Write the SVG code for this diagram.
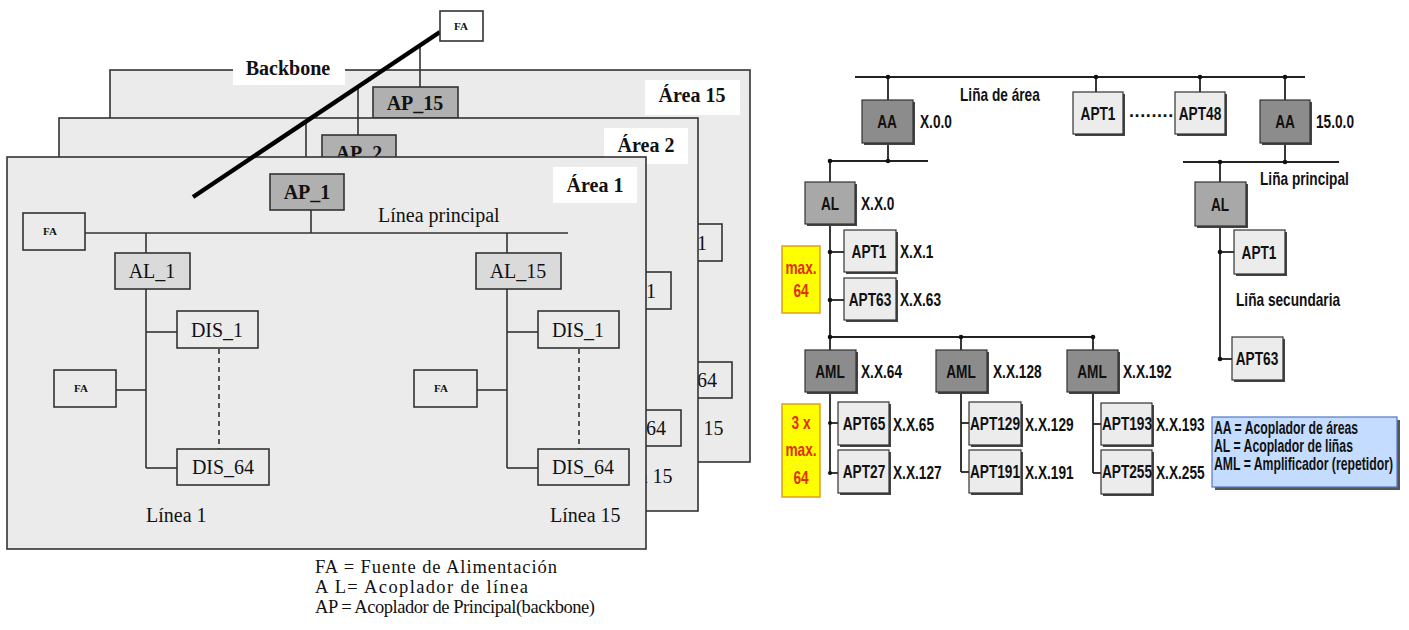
<svg xmlns="http://www.w3.org/2000/svg" xmlns:xlink="http://www.w3.org/1999/xlink" width="1409" height="630" viewBox="0 0 1409 630">
<style>
.panel{fill:#ebebeb;stroke:#333;stroke-width:1.6}
.bx{fill:#ebebeb;stroke:#333;stroke-width:1.6}
.al{fill:#dadada;stroke:#333;stroke-width:1.6}
.ap{fill:#b0b0b0;stroke:#333;stroke-width:1.6}
.ln{stroke:#333;stroke-width:1.6;fill:none}
.dash{stroke:#333;stroke-width:1.6;stroke-dasharray:5,4;fill:none}
.ser{font-family:"Liberation Serif","Times New Roman",serif;fill:#111}
.s20{font-size:20px}
.b20{font-size:20px;font-weight:bold}
.fa{font-size:11px;font-weight:bold}
.lbl{fill:#fff}
.nar{font-family:"Liberation Sans",Arial,sans-serif;font-weight:bold;fill:#111;font-size:18px}
.mid{text-anchor:middle}
.rl{stroke:#222;stroke-width:1.8;fill:none}
.sh{fill:#444}
.dk{fill:#8c8c8c;stroke:#333;stroke-width:1.2}
.md{fill:#a8a8a8;stroke:#333;stroke-width:1.2}
.lt{fill:#ececec;stroke:#333;stroke-width:1.2}
.yl{fill:#ffff00;stroke:#e0a020;stroke-width:1.5}
.red{fill:#e0300c}
.dot{fill:#111}
</style>

<!-- ===== LEFT DIAGRAM ===== -->
<g id="area15">
  <rect class="panel" x="110" y="70" width="640" height="392"/>
  <use xlink:href="#area1-content" href="#area1-content" transform="translate(103,-87)"/>
  <rect class="lbl" x="645" y="80" width="95" height="35"/>
  <text class="ser b20" x="692" y="102" text-anchor="middle">Área 15</text>
</g>
<g id="backbone-label">
  <rect class="lbl" x="233" y="60" width="112" height="25"/>
  <text class="ser b20" x="288" y="75" text-anchor="middle">Backbone</text>
</g>
<g id="AP_15">
  <rect class="ap" x="373" y="87" width="85" height="31"/>
  <text class="ser b20" x="415" y="110" text-anchor="middle">AP_15</text>
</g>
<g id="area2">
  <rect class="panel" x="59" y="118" width="639" height="393"/>
  <use xlink:href="#area1-content" href="#area1-content" transform="translate(52,-39)"/>
  <rect class="lbl" x="604" y="128" width="84" height="36"/>
  <text class="ser b20" x="646" y="152" text-anchor="middle">Área 2</text>
</g>
<g id="AP_2">
  <rect class="ap" x="322" y="135" width="74" height="36"/>
  <text class="ser b20" x="359" y="160" text-anchor="middle">AP_2</text>
</g>
<g id="backbone-drops">
  <line class="ln" x1="420" y1="45" x2="420" y2="87"/>
  <line class="ln" x1="358" y1="87" x2="358" y2="135"/>
  <line class="ln" x1="306" y1="121" x2="306" y2="157"/>
</g>
<g id="area1">
  <rect class="panel" x="7" y="157" width="639" height="392"/>
  <rect class="lbl" x="553" y="167" width="84" height="36"/>
  <text class="ser b20" x="595" y="192" text-anchor="middle">Área 1</text>
  <g id="area1-content">
    <g id="FA_main">
      <rect class="bx" x="23" y="213" width="62" height="37"/>
      <text class="ser fa" x="50" y="235" text-anchor="middle">FA</text>
    </g>
    <g id="linea-principal">
      <line class="ln" x1="85" y1="233" x2="568" y2="233"/>
      <text class="ser s20" x="378" y="222">Línea principal</text>
    </g>
    <g id="linea1">
      <line class="ln" x1="146" y1="233" x2="146" y2="253"/>
      <line class="ln" x1="146" y1="289" x2="146" y2="468"/>
      <line class="ln" x1="146" y1="332" x2="177" y2="332"/>
      <line class="ln" x1="146" y1="468" x2="177" y2="468"/>
      <line class="ln" x1="116" y1="390" x2="146" y2="390"/>
      <line class="dash" x1="219" y1="349" x2="219" y2="449"/>
      <g id="AL_1"><rect class="al" x="115" y="253" width="75" height="36"/><text class="ser s20" x="152" y="278" text-anchor="middle">AL_1</text></g>
      <g id="DIS_1_l1"><rect class="bx" x="177" y="311" width="81" height="37"/><text class="ser s20" x="217" y="337" text-anchor="middle">DIS_1</text></g>
      <g id="DIS_64_l1"><rect class="bx" x="177" y="449" width="92" height="36"/><text class="ser s20" x="223" y="474" text-anchor="middle">DIS_64</text></g>
      <g id="FA_l1"><rect class="bx" x="54" y="370" width="62" height="37"/><text class="ser fa" x="81" y="392" text-anchor="middle">FA</text></g>
      <text class="ser s20" x="146" y="522">Línea 1</text>
    </g>
    <g id="linea15">
      <line class="ln" x1="507" y1="233" x2="507" y2="253"/>
      <line class="ln" x1="507" y1="289" x2="507" y2="468"/>
      <line class="ln" x1="507" y1="332" x2="538" y2="332"/>
      <line class="ln" x1="507" y1="468" x2="538" y2="468"/>
      <line class="ln" x1="477" y1="390" x2="507" y2="390"/>
      <line class="dash" x1="579" y1="349" x2="579" y2="449"/>
      <g id="AL_15"><rect class="al" x="476" y="253" width="85" height="36"/><text class="ser s20" x="518" y="278" text-anchor="middle">AL_15</text></g>
      <g id="DIS_1_l15"><rect class="bx" x="538" y="311" width="81" height="37"/><text class="ser s20" x="578" y="337" text-anchor="middle">DIS_1</text></g>
      <g id="DIS_64_l15"><rect class="bx" x="538" y="449" width="91" height="36"/><text class="ser s20" x="583" y="474" text-anchor="middle">DIS_64</text></g>
      <g id="FA_l15"><rect class="bx" x="414" y="370" width="63" height="37"/><text class="ser fa" x="441" y="392" text-anchor="middle">FA</text></g>
      <text class="ser s20" x="550" y="522">Línea 15</text>
    </g>
  </g>
  <g id="AP_1">
    <rect class="ap" x="270" y="174" width="74" height="36"/>
    <text class="ser b20" x="307" y="199" text-anchor="middle">AP_1</text>
  </g>
  <line class="ln" x1="311" y1="210" x2="311" y2="233"/>
</g>
<g id="backbone">
  <line x1="193" y1="197" x2="440" y2="32" stroke="#000" stroke-width="4.5"/>
</g>
<g id="FA_top">
  <rect fill="#fff" stroke="#333" stroke-width="1.6" x="440" y="11" width="43" height="30"/>
  <text class="ser fa" x="461" y="30" text-anchor="middle">FA</text>
</g>
<g id="legend-left" class="ser">
  <text x="315" y="573" font-size="18.5" textLength="242" lengthAdjust="spacing">FA = Fuente de Alimentación</text>
  <text x="315" y="593" font-size="18.5" textLength="213" lengthAdjust="spacing">A L= Acoplador de línea</text>
  <text x="315" y="613" font-size="18.5" textLength="280" lengthAdjust="spacing">AP = Acoplador de Principal(backbone)</text>
</g>

<!-- ===== RIGHT DIAGRAM ===== -->
<g id="connectors">
  <line class="rl" x1="855" y1="77" x2="1305" y2="77"/>
  <line class="rl" x1="888" y1="77" x2="888" y2="100"/>
  <line class="rl" x1="888" y1="143" x2="888" y2="161"/>
  <line class="rl" x1="830" y1="161" x2="928" y2="161"/>
  <line class="rl" x1="830" y1="161" x2="830" y2="182"/>
  <line class="rl" x1="830" y1="224" x2="830" y2="337"/>
  <line class="rl" x1="830" y1="252" x2="844" y2="252"/>
  <line class="rl" x1="830" y1="300" x2="844" y2="300"/>
  <line class="rl" x1="830" y1="337" x2="1093" y2="337"/>
  <line class="rl" x1="830" y1="337" x2="830" y2="350"/>
  <line class="rl" x1="961" y1="337" x2="961" y2="350"/>
  <line class="rl" x1="1093" y1="337" x2="1093" y2="350"/>
  <line class="rl" x1="830" y1="392" x2="830" y2="473"/>
  <line class="rl" x1="830" y1="423" x2="838" y2="423"/>
  <line class="rl" x1="830" y1="473" x2="838" y2="473"/>
  <line class="rl" x1="961" y1="392" x2="961" y2="472"/>
  <line class="rl" x1="961" y1="423" x2="969" y2="423"/>
  <line class="rl" x1="961" y1="472" x2="969" y2="472"/>
  <line class="rl" x1="1093" y1="392" x2="1093" y2="473"/>
  <line class="rl" x1="1093" y1="424" x2="1101" y2="424"/>
  <line class="rl" x1="1093" y1="473" x2="1101" y2="473"/>
  <line class="rl" x1="1096" y1="77" x2="1096" y2="92"/>
  <line class="rl" x1="1200" y1="77" x2="1200" y2="92"/>
  <line class="rl" x1="1285" y1="77" x2="1285" y2="100"/>
  <line class="rl" x1="1285" y1="143" x2="1285" y2="162"/>
  <line class="rl" x1="1183" y1="162" x2="1339" y2="162"/>
  <line class="rl" x1="1220" y1="162" x2="1220" y2="182"/>
  <line class="rl" x1="1220" y1="226" x2="1220" y2="359"/>
  <line class="rl" x1="1220" y1="252" x2="1234" y2="252"/>
  <line class="rl" x1="1220" y1="359" x2="1232" y2="359"/>
  <g class="dot">
    <circle cx="888" cy="77" r="2.3"/><circle cx="1096" cy="77" r="2.3"/><circle cx="1200" cy="77" r="2.3"/><circle cx="1285" cy="77" r="2.3"/>
    <circle cx="830" cy="161" r="2.3"/><circle cx="888" cy="161" r="2.3"/>
    <circle cx="830" cy="252" r="2.3"/><circle cx="830" cy="300" r="2.3"/>
    <circle cx="830" cy="337" r="2.3"/><circle cx="961" cy="337" r="2.3"/><circle cx="1093" cy="337" r="2.3"/>
    <circle cx="830" cy="423" r="2"/><circle cx="830" cy="473" r="2"/>
    <circle cx="1220" cy="162" r="2.3"/><circle cx="1285" cy="162" r="2.3"/>
    <circle cx="1220" cy="252" r="2.3"/><circle cx="1220" cy="359" r="2.3"/>
  </g>
</g>

<text class="nar" transform="translate(960,101) scale(0.76,1)">Liña de área</text>
<text class="nar" transform="translate(1260,185) scale(0.76,1)">Liña principal</text>
<text class="nar" transform="translate(1236,306) scale(0.76,1)">Liña secundaria</text>

<g id="AA_X00">
  <rect class="sh" x="864" y="102" width="51" height="43"/><rect class="dk" x="862" y="100" width="51" height="43"/>
  <text class="nar mid" transform="translate(887,128) scale(0.76,1)">AA</text>
  <text class="nar" transform="translate(920,128) scale(0.76,1)">X.0.0</text>
</g>
<g id="APT1_top">
  <rect class="sh" x="1075" y="94" width="50" height="42"/><rect class="lt" x="1073" y="92" width="50" height="42"/>
  <text class="nar mid" transform="translate(1098,120) scale(0.76,1)">APT1</text>
</g>
<text class="nar" x="1129" y="117" font-size="14" letter-spacing="0.6">.........</text>
<g id="APT48">
  <rect class="sh" x="1177" y="94" width="50" height="42"/><rect class="lt" x="1175" y="92" width="50" height="42"/>
  <text class="nar mid" transform="translate(1200,120) scale(0.76,1)">APT48</text>
</g>
<g id="AA_1500">
  <rect class="sh" x="1262" y="102" width="50" height="43"/><rect class="dk" x="1260" y="100" width="50" height="43"/>
  <text class="nar mid" transform="translate(1285,128) scale(0.76,1)">AA</text>
  <text class="nar" transform="translate(1316,128) scale(0.76,1)">15.0.0</text>
</g>
<g id="AL_XX0">
  <rect class="sh" x="807" y="184" width="50" height="42"/><rect class="md" x="805" y="182" width="50" height="42"/>
  <text class="nar mid" transform="translate(830,210) scale(0.76,1)">AL</text>
  <text class="nar" transform="translate(861,210) scale(0.76,1)">X.X.0</text>
</g>
<g id="AL_right">
  <rect class="sh" x="1197" y="184" width="51" height="44"/><rect class="md" x="1195" y="182" width="51" height="44"/>
  <text class="nar mid" transform="translate(1220,211) scale(0.76,1)">AL</text>
</g>
<g id="APT1_XX1">
  <rect class="sh" x="846" y="232" width="52" height="42"/><rect class="lt" x="844" y="230" width="52" height="42"/>
  <text class="nar mid" transform="translate(869,258) scale(0.76,1)">APT1</text>
  <text class="nar" transform="translate(900,258) scale(0.76,1)">X.X.1</text>
</g>
<g id="APT63_XX63">
  <rect class="sh" x="846" y="280" width="52" height="42"/><rect class="lt" x="844" y="278" width="52" height="42"/>
  <text class="nar mid" transform="translate(870,306) scale(0.76,1)">APT63</text>
  <text class="nar" transform="translate(900,306) scale(0.76,1)">X.X.63</text>
</g>
<g id="APT1_right">
  <rect class="sh" x="1236" y="232" width="51" height="44"/><rect class="lt" x="1234" y="230" width="51" height="44"/>
  <text class="nar mid" transform="translate(1259,259) scale(0.76,1)">APT1</text>
</g>
<g id="APT63_right">
  <rect class="sh" x="1234" y="339" width="51" height="43"/><rect class="lt" x="1232" y="337" width="51" height="43"/>
  <text class="nar mid" transform="translate(1257,365) scale(0.76,1)">APT63</text>
</g>
<g id="max64">
  <rect class="yl" x="782" y="246" width="38" height="67"/>
  <text class="nar red mid" transform="translate(801,274) scale(0.76,1)">max.</text>
  <text class="nar red mid" transform="translate(801,297) scale(0.76,1)">64</text>
</g>
<g id="AML_64">
  <rect class="sh" x="807" y="352" width="51" height="42"/><rect class="dk" x="805" y="350" width="51" height="42"/>
  <text class="nar mid" transform="translate(830,378) scale(0.76,1)">AML</text>
  <text class="nar" transform="translate(861,378) scale(0.76,1)">X.X.64</text>
</g>
<g id="AML_128">
  <rect class="sh" x="938" y="352" width="51" height="42"/><rect class="dk" x="936" y="350" width="51" height="42"/>
  <text class="nar mid" transform="translate(961,378) scale(0.76,1)">AML</text>
  <text class="nar" transform="translate(993,378) scale(0.76,1)">X.X.128</text>
</g>
<g id="AML_192">
  <rect class="sh" x="1069" y="352" width="51" height="42"/><rect class="dk" x="1067" y="350" width="51" height="42"/>
  <text class="nar mid" transform="translate(1092,378) scale(0.76,1)">AML</text>
  <text class="nar" transform="translate(1123,378) scale(0.76,1)">X.X.192</text>
</g>
<g id="max64x3">
  <rect class="yl" x="782" y="404" width="38" height="93"/>
  <text class="nar red mid" transform="translate(801,429) scale(0.76,1)">3 x</text>
  <text class="nar red mid" transform="translate(801,456) scale(0.76,1)">max.</text>
  <text class="nar red mid" transform="translate(801,484) scale(0.76,1)">64</text>
</g>
<g id="APT65">
  <rect class="sh" x="840" y="404" width="51" height="43"/><rect class="lt" x="838" y="402" width="51" height="43"/>
  <text class="nar mid" transform="translate(864,430) scale(0.76,1)">APT65</text>
  <text class="nar" transform="translate(893,431) scale(0.76,1)">X.X.65</text>
</g>
<g id="APT27">
  <rect class="sh" x="840" y="452" width="51" height="43"/><rect class="lt" x="838" y="450" width="51" height="43"/>
  <text class="nar mid" transform="translate(864,478) scale(0.76,1)">APT27</text>
  <text class="nar" transform="translate(893,479) scale(0.76,1)">X.X.127</text>
</g>
<g id="APT129">
  <rect class="sh" x="971" y="404" width="52" height="43"/><rect class="lt" x="969" y="402" width="52" height="43"/>
  <text class="nar mid" transform="translate(995,430) scale(0.76,1)">APT129</text>
  <text class="nar" transform="translate(1025,431) scale(0.76,1)">X.X.129</text>
</g>
<g id="APT191">
  <rect class="sh" x="971" y="452" width="52" height="43"/><rect class="lt" x="969" y="450" width="52" height="43"/>
  <text class="nar mid" transform="translate(995,478) scale(0.76,1)">APT191</text>
  <text class="nar" transform="translate(1025,479) scale(0.76,1)">X.X.191</text>
</g>
<g id="APT193">
  <rect class="sh" x="1103" y="405" width="51" height="42"/><rect class="lt" x="1101" y="403" width="51" height="42"/>
  <text class="nar mid" transform="translate(1127,430) scale(0.76,1)">APT193</text>
  <text class="nar" transform="translate(1156,431) scale(0.76,1)">X.X.193</text>
</g>
<g id="APT255">
  <rect class="sh" x="1103" y="452" width="51" height="44"/><rect class="lt" x="1101" y="450" width="51" height="44"/>
  <text class="nar mid" transform="translate(1127,478) scale(0.76,1)">APT255</text>
  <text class="nar" transform="translate(1156,479) scale(0.76,1)">X.X.255</text>
</g>
<g id="legend-right">
  <rect fill="#555" x="1215" y="420" width="185" height="70"/>
  <rect fill="#c4dcff" stroke="#5078c8" stroke-width="1.2" x="1212" y="417" width="185" height="70"/>
  <text class="nar" transform="translate(1214,434) scale(0.68,1)">AA = Acoplador de áreas</text>
  <text class="nar" transform="translate(1214,452) scale(0.68,1)">AL = Acoplador de liñas</text>
  <text class="nar" transform="translate(1214,470) scale(0.68,1)">AML = Amplificador (repetidor)</text>
</g>
</svg>
